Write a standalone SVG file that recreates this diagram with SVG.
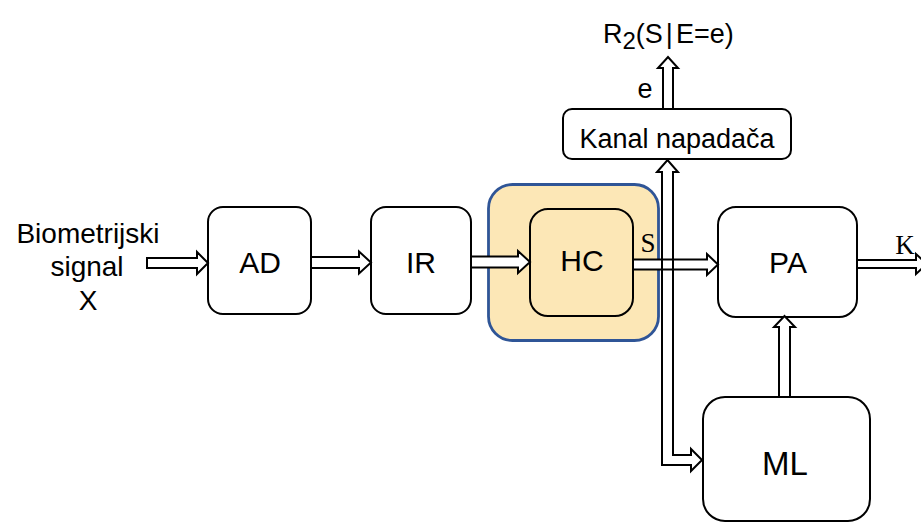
<svg xmlns="http://www.w3.org/2000/svg" width="921" height="523" viewBox="0 0 921 523">
  <style>
    .box { fill: #ffffff; stroke: #000000; stroke-width: 2; }
    .lbl { font-family: "Liberation Sans", Arial, sans-serif; fill: #000000; text-anchor: middle; }
    .sym { font-family: "Liberation Serif", "DejaVu Serif", serif; fill: #000000; text-anchor: middle; font-size: 27px; }
    .arrow { fill: #ffffff; stroke: #000000; stroke-width: 2; stroke-linejoin: miter; }
    .arrow-open { fill: none; stroke: #000000; stroke-width: 2; stroke-linejoin: miter; }
  </style>

  <rect width="921" height="523" fill="#ffffff"/>

  <!-- input label -->
  <g id="input">
    <text class="lbl" x="88" y="243" font-size="28">Biometrijski</text>
    <text class="lbl" x="87" y="276" font-size="28">signal</text>
    <text class="lbl" x="88" y="310" font-size="28">X</text>
  </g>

  <g id="AD">
    <rect class="box" x="208" y="207" width="103" height="107" rx="15"/>
    <text class="lbl" x="260" y="273" font-size="30">AD</text>
  </g>

  <g id="IR">
    <rect class="box" x="371" y="207" width="100" height="107" rx="15"/>
    <text class="lbl" x="421" y="273" font-size="30">IR</text>
  </g>

  <!-- highlighted block around HC -->
  <g id="HC">
    <rect x="488.5" y="184.5" width="170" height="156" rx="24" fill="#fce7b6" stroke="#2f5597" stroke-width="2.8"/>
    <rect class="box" x="530" y="209" width="103" height="107" rx="18" style="fill:#fce7b6"/>
    <text class="lbl" x="582" y="271" font-size="30">HC</text>
  </g>

  <g id="PA">
    <rect class="box" x="718" y="207" width="139" height="110" rx="18"/>
    <text class="lbl" x="788" y="273" font-size="30">PA</text>
  </g>

  <g id="ML">
    <rect class="box" x="703" y="397" width="167" height="124" rx="22"/>
    <text class="lbl" x="785" y="475" font-size="33">ML</text>
  </g>

  <g id="Kanal">
    <rect class="box" x="563" y="109" width="228" height="50" rx="9"/>
    <text class="lbl" x="677" y="148" font-size="27">Kanal napadača</text>
  </g>

  <g id="output">
    <text class="lbl" x="603" y="43" font-size="27" style="text-anchor:start">R<tspan font-size="24" dy="6">2</tspan><tspan dy="-6">(S</tspan><tspan dx="3">|</tspan><tspan dx="3">E=e)</tspan></text>
  </g>

  <!-- hollow double-line connectors -->
  <g id="connectors">
    <path class="arrow" d="M147,258 L197,258 L197,252 L208,263 L197,274 L197,268 L147,268 Z"/>
    <path class="arrow" d="M311,257 L359,257 L359,251.5 L371,262.5 L359,273.5 L359,268 L311,268 Z"/>
    <path class="arrow" d="M471,256.5 L518,256.5 L518,251 L530,262 L518,273 L518,267.5 L471,267.5 Z"/>
    <path class="arrow" d="M633,259.5 L707,259.5 L707,254 L718,264.5 L707,275 L707,269.5 L633,269.5 Z"/>
    <path class="arrow" d="M857,260 L916,260 L916,254 L927,264 L916,274 L916,268 L857,268 Z"/>
    <path class="arrow" d="M779,397 L779,327 L774,327 L784.5,316 L795,327 L790,327 L790,397 Z"/>
    <path class="arrow" d="M663,109 L663,68 L658,68 L668,57 L678,68 L673,68 L673,109 Z"/>
    <path class="arrow-open" d="M662,465 L662,172 L657,172 L667.5,160 L678,172 L673,172 L673,455 L691,455 L691,449 L702,460 L691,471 L691,465 Z"/>
    <text class="sym" x="648" y="252">S</text>
    <text class="sym" x="905" y="254">K</text>
    <text class="lbl" x="645" y="98" font-size="27">e</text>
  </g>
</svg>
